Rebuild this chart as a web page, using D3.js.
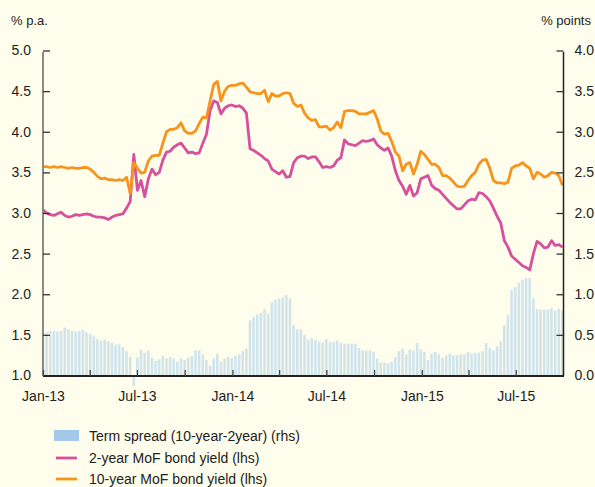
<!DOCTYPE html>
<html><head><meta charset="utf-8">
<script src="https://cdn.jsdelivr.net/npm/d3@7/dist/d3.min.js"></script>
<style>
html,body{margin:0;padding:0;background:#fffdeb;}
svg{display:block;font-family:"Liberation Sans",Arial,Helvetica,sans-serif;}
</style></head>
<body>
<script>
// Weekly observations starting 1 Jan 2013
const startDate = "2013-01-01";
const leftTicks = [1.0,1.5,2.0,2.5,3.0,3.5,4.0,4.5,5.0];
const rightTicks = [0.0,0.5,1.0,1.5,2.0,2.5,3.0,3.5,4.0];
const xTickLabels = ["Jan-13","Jul-13","Jan-14","Jul-14","Jan-15","Jul-15"];
const seriesNames = ["Term spread (10-year-2year) (rhs)","2-year MoF bond yield (lhs)","10-year MoF bond yield (lhs)"];

const yield2y = [3.04,3.00,2.98,2.97,2.99,3.01,2.97,2.95,2.96,2.98,2.97,2.98,2.99,2.98,2.96,2.95,2.95,2.94,2.92,2.95,
2.97,2.98,2.99,3.06,3.14,3.72,3.28,3.40,3.20,3.42,3.54,3.47,3.50,3.65,3.75,3.76,3.81,3.84,3.86,3.80,
3.74,3.75,3.73,3.74,3.86,3.97,4.26,4.38,4.36,4.22,4.29,4.32,4.33,4.31,4.32,4.29,4.23,3.79,3.77,3.74,
3.71,3.67,3.64,3.54,3.51,3.48,3.52,3.44,3.45,3.62,3.68,3.70,3.70,3.67,3.69,3.69,3.63,3.56,3.57,3.56,
3.58,3.65,3.68,3.90,3.85,3.84,3.83,3.86,3.89,3.88,3.89,3.91,3.84,3.80,3.77,3.80,3.70,3.52,3.40,3.33,
3.23,3.34,3.21,3.25,3.42,3.44,3.46,3.34,3.30,3.28,3.23,3.18,3.13,3.09,3.05,3.05,3.10,3.15,3.17,3.16,
3.25,3.24,3.20,3.15,3.06,2.96,2.88,2.66,2.58,2.47,2.43,2.39,2.35,2.33,2.30,2.50,2.65,2.62,2.57,2.58,
2.66,2.60,2.61,2.58];

const yield10y = [3.57,3.57,3.56,3.57,3.56,3.57,3.56,3.55,3.56,3.55,3.55,3.56,3.56,3.54,3.50,3.45,3.42,3.43,3.41,3.41,
3.40,3.41,3.40,3.44,3.24,3.62,3.55,3.49,3.50,3.64,3.70,3.71,3.71,3.86,4.00,4.03,4.03,4.05,4.11,4.01,
3.98,3.98,4.01,4.10,4.18,4.17,4.38,4.58,4.62,4.38,4.50,4.56,4.57,4.57,4.59,4.60,4.55,4.49,4.48,4.47,
4.47,4.51,4.37,4.47,4.44,4.44,4.47,4.48,4.47,4.35,4.31,4.33,4.23,4.17,4.14,4.15,4.06,4.06,4.07,4.02,
4.05,4.12,4.05,4.25,4.26,4.26,4.25,4.22,4.22,4.22,4.24,4.26,4.16,4.01,3.97,3.98,3.88,3.75,3.70,3.52,
3.60,3.62,3.48,3.60,3.76,3.72,3.66,3.60,3.60,3.56,3.46,3.46,3.43,3.38,3.33,3.32,3.33,3.40,3.46,3.50,
3.60,3.65,3.66,3.55,3.40,3.37,3.37,3.36,3.38,3.55,3.58,3.59,3.62,3.58,3.55,3.42,3.50,3.48,3.44,3.46,
3.50,3.49,3.46,3.34];

const termSpread = [0.53,0.53,0.55,0.55,0.54,0.55,0.59,0.57,0.55,0.54,0.55,0.56,0.53,0.51,0.48,0.45,0.43,0.44,0.42,0.40,
0.38,0.38,0.35,0.30,0.23,-0.13,0.22,0.32,0.28,0.31,0.22,0.18,0.20,0.24,0.21,0.23,0.21,0.17,0.21,0.19,
0.22,0.24,0.31,0.31,0.26,0.19,0.12,0.21,0.27,0.17,0.21,0.23,0.22,0.24,0.26,0.30,0.33,0.68,0.72,0.75,
0.77,0.82,0.76,0.90,0.93,0.95,0.96,0.99,0.95,0.62,0.57,0.57,0.50,0.44,0.46,0.44,0.42,0.41,0.45,0.41,
0.41,0.43,0.40,0.39,0.39,0.39,0.39,0.34,0.31,0.31,0.31,0.29,0.21,0.16,0.16,0.15,0.17,0.23,0.30,0.33,
0.26,0.32,0.31,0.40,0.32,0.29,0.19,0.27,0.29,0.26,0.22,0.25,0.27,0.25,0.25,0.26,0.26,0.29,0.27,0.28,
0.28,0.30,0.40,0.34,0.31,0.36,0.42,0.62,0.74,1.05,1.09,1.14,1.18,1.20,1.20,0.95,0.82,0.81,0.81,0.81,
0.83,0.80,0.82,0.80];

const W = 595, H = 487;
const svg = d3.select("body").append("svg").attr("width", W).attr("height", H);
svg.append("rect").attr("width", W).attr("height", H).attr("fill", "#fffdeb");

const t0 = d3.isoParse(startDate + "T00:00:00");
const dates = yield2y.map((_, i) => d3.timeDay.offset(t0, 7 * i));

const x = d3.scaleTime().domain([new Date(2013,0,1), new Date(2015,9,1)]).range([43, 563.5]);
const yL = d3.scaleLinear().domain([1, 5]).range([375.5, 50.5]);
const yR = d3.scaleLinear().domain([0, 4]).range([375.5, 50.5]);

// bars
const step = x(dates[1]) - x(dates[0]);
svg.append("g").selectAll("rect").data(termSpread).join("rect")
  .attr("x", (d, i) => x(dates[i]) - step / 2 + 0.5)
  .attr("width", step - 1.1)
  .attr("y", d => Math.min(yR(d), yR(0)))
  .attr("height", d => Math.abs(yR(d) - yR(0)))
  .attr("fill", "#d0e4ed");

// lines
const line = d3.line().x((d, i) => x(dates[i])).y(d => yL(d)).curve(d3.curveLinear);
svg.append("path").datum(yield2y).attr("d", line)
  .attr("fill", "none").attr("stroke", "#d6509e").attr("stroke-width", 2.8).attr("stroke-linejoin", "round");
svg.append("path").datum(yield10y).attr("d", line)
  .attr("fill", "none").attr("stroke", "#f7941d").attr("stroke-width", 2.8).attr("stroke-linejoin", "round");

// left axis
const gL = svg.append("g").attr("transform", "translate(43,0)")
  .call(d3.axisLeft(yL).tickValues(leftTicks).tickFormat(d3.format(".1f")).tickSizeInner(-7).tickSizeOuter(0).tickPadding(12));
gL.select(".domain").attr("stroke", "#8a8a82").attr("stroke-width", 2).attr("d", "M0,52V376");
gL.selectAll(".tick line").attr("stroke", "#333").attr("stroke-width", 1.3);
gL.selectAll(".tick text").attr("font-size", 14).attr("fill", "#222").attr("font-family", "Liberation Sans, Arial, sans-serif");

// right axis
const gR = svg.append("g").attr("transform", "translate(563.5,0)")
  .call(d3.axisRight(yR).tickValues(rightTicks).tickFormat(d3.format(".1f")).tickSizeInner(-7).tickSizeOuter(0).tickPadding(11));
gR.select(".domain").attr("stroke", "#222").attr("stroke-width", 1.5).attr("d", "M0,52V376");
gR.selectAll(".tick line").attr("stroke", "#333").attr("stroke-width", 1.3);
gR.selectAll(".tick text").attr("font-size", 14).attr("fill", "#222").attr("font-family", "Liberation Sans, Arial, sans-serif");

// bottom axis
const quarterTicks = d3.timeMonth.every(3).range(new Date(2013,0,1), new Date(2015,9,1));
const fmt = d3.timeFormat("%b-%y");
const gB = svg.append("g").attr("transform", "translate(0,376)")
  .call(d3.axisBottom(x).tickValues(quarterTicks).tickSizeInner(-6).tickSizeOuter(0).tickPadding(15)
    .tickFormat(d => xTickLabels.includes(fmt(d)) ? fmt(d) : ""));
gB.select(".domain").attr("stroke", "#222").attr("stroke-width", 2).attr("d", "M43,0H564");
gB.selectAll(".tick line").attr("stroke", "#444").attr("stroke-width", 1.3);
gB.selectAll(".tick text").attr("font-size", 14).attr("fill", "#222").attr("font-family", "Liberation Sans, Arial, sans-serif");

// axis titles
svg.append("text").attr("x", 11).attr("y", 25).attr("font-size", 13).attr("fill", "#222").text("% p.a.");
svg.append("text").attr("x", 591).attr("y", 25).attr("text-anchor", "end").attr("font-size", 13).attr("fill", "#222").text("% points");

// legend
const lg = svg.append("g");
lg.append("rect").attr("x", 54).attr("y", 430).attr("width", 25).attr("height", 11).attr("fill", "#a3c9e8");
lg.append("line").attr("x1", 56).attr("x2", 77).attr("y1", 458).attr("y2", 458).attr("stroke", "#d6509e").attr("stroke-width", 2.8);
lg.append("line").attr("x1", 56).attr("x2", 77).attr("y1", 479).attr("y2", 479).attr("stroke", "#f7941d").attr("stroke-width", 2.8);
[440.5, 463, 484].forEach((yy, i) => {
  lg.append("text").attr("x", 89).attr("y", yy).attr("font-size", 14).attr("fill", "#222").text(seriesNames[i]);
});
</script>
</body></html>
